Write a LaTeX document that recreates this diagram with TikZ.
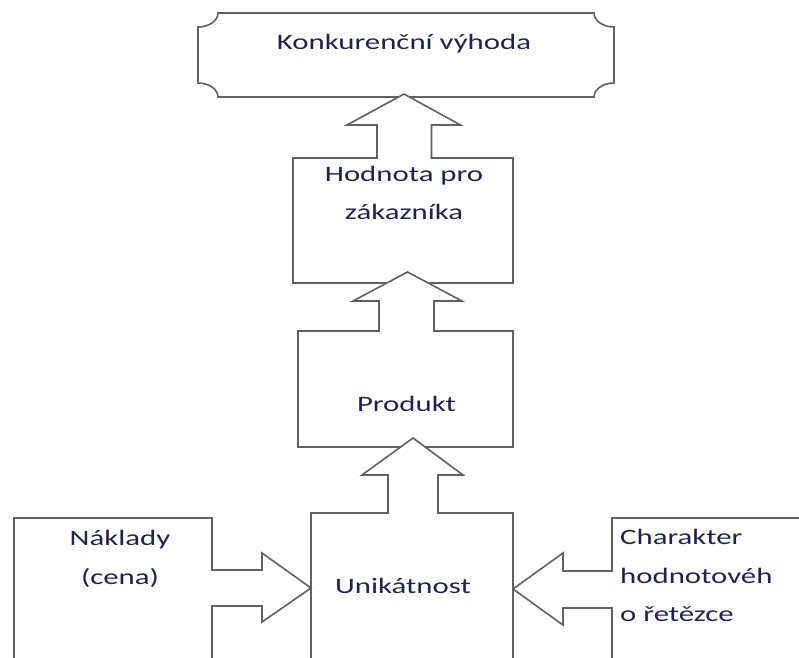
\documentclass[tikz,border=0pt]{standalone}
\usepackage{fontspec}
\setmainfont{Carlito}[FakeStretch=1.4]
\definecolor{linegray}{RGB}{96,96,96}
\definecolor{txtcol}{RGB}{32,36,72}
\tikzset{
  shapeline/.style={draw=linegray, line width=1.6pt, line join=miter},
  boxshape/.style={shapeline, fill=white, rectangle, inner sep=0pt},
  blockarrow/.style={shapeline, fill=white},
  lbl/.style={text=txtcol, font=\fontsize{22}{26}\selectfont, inner sep=0pt, anchor=base},
}
\begin{document}
\begin{tikzpicture}[x=1pt,y=-1pt]
\clip (0,0) rectangle (799,657);
\fill[white] (0,0) rectangle (799,657);
% plaque
\filldraw[shapeline, fill=white] (218,13) -- (594,13)
  .. controls (594,20.7) and (602.96,27) .. (614,27) -- (614,83)
  .. controls (602.96,83) and (594,89.3) .. (594,97) -- (218,97)
  .. controls (218,89.3) and (209.04,83) .. (198,83) -- (198,27)
  .. controls (209.04,27) and (218,20.7) .. (218,13) -- cycle;
% boxes
\node[boxshape, minimum width=220, minimum height=125] (hod) at (403,220.5) {};
\node[boxshape, minimum width=215, minimum height=116] (prod) at (405.5,389) {};
\node[boxshape, minimum width=202, minimum height=207] (unik) at (412,616.5) {};
\node[boxshape, minimum width=198, minimum height=202] (nakl) at (113,619) {};
\node[boxshape, minimum width=268, minimum height=202] (char) at (746,619) {};
% block arrows
\filldraw[blockarrow] (377,158.8) -- (377,125) -- (347,125) -- (404,94) -- (460.5,125) -- (431.5,125) -- (431.5,158.8);
\filldraw[blockarrow] (379,331.8) -- (379,301) -- (353,301) -- (407.5,272) -- (462,301) -- (434,301) -- (434,331.8);
\filldraw[blockarrow] (388,513.8) -- (388,475) -- (362,475) -- (413,438) -- (463,475) -- (438,475) -- (438,513.8);
\filldraw[blockarrow] (211.2,570) -- (262,570) -- (262,553) -- (311,588) -- (262,622) -- (262,606) -- (211.2,606);
\filldraw[blockarrow] (612.8,571) -- (563,571) -- (563,553) -- (513,589) -- (563,625) -- (563,608) -- (612.8,608);
% labels
\node[lbl] (t1) at (404,49) {Konkurenční výhoda};
\node[lbl] (t2a) at (404,181.5) {Hodnota pro};
\node[lbl] (t2b) at (404,219.3) {zákazníka};
\node[lbl] (t3) at (406.5,411.7) {Produkt};
\node[lbl] (t4) at (403,593.3) {Unikátnost};
\node[lbl] (t5a) at (120,545) {Náklady};
\node[lbl] (t5b) at (120,584) {(cena)};
\node[lbl, anchor=base west] (t6a) at (620,544.3) {Charakter};
\node[lbl, anchor=base west] (t6b) at (620,583.3) {hodnotovéh};
\node[lbl, anchor=base west] (t6c) at (620,621.7) {o řetězce};
\end{tikzpicture}
\end{document}
